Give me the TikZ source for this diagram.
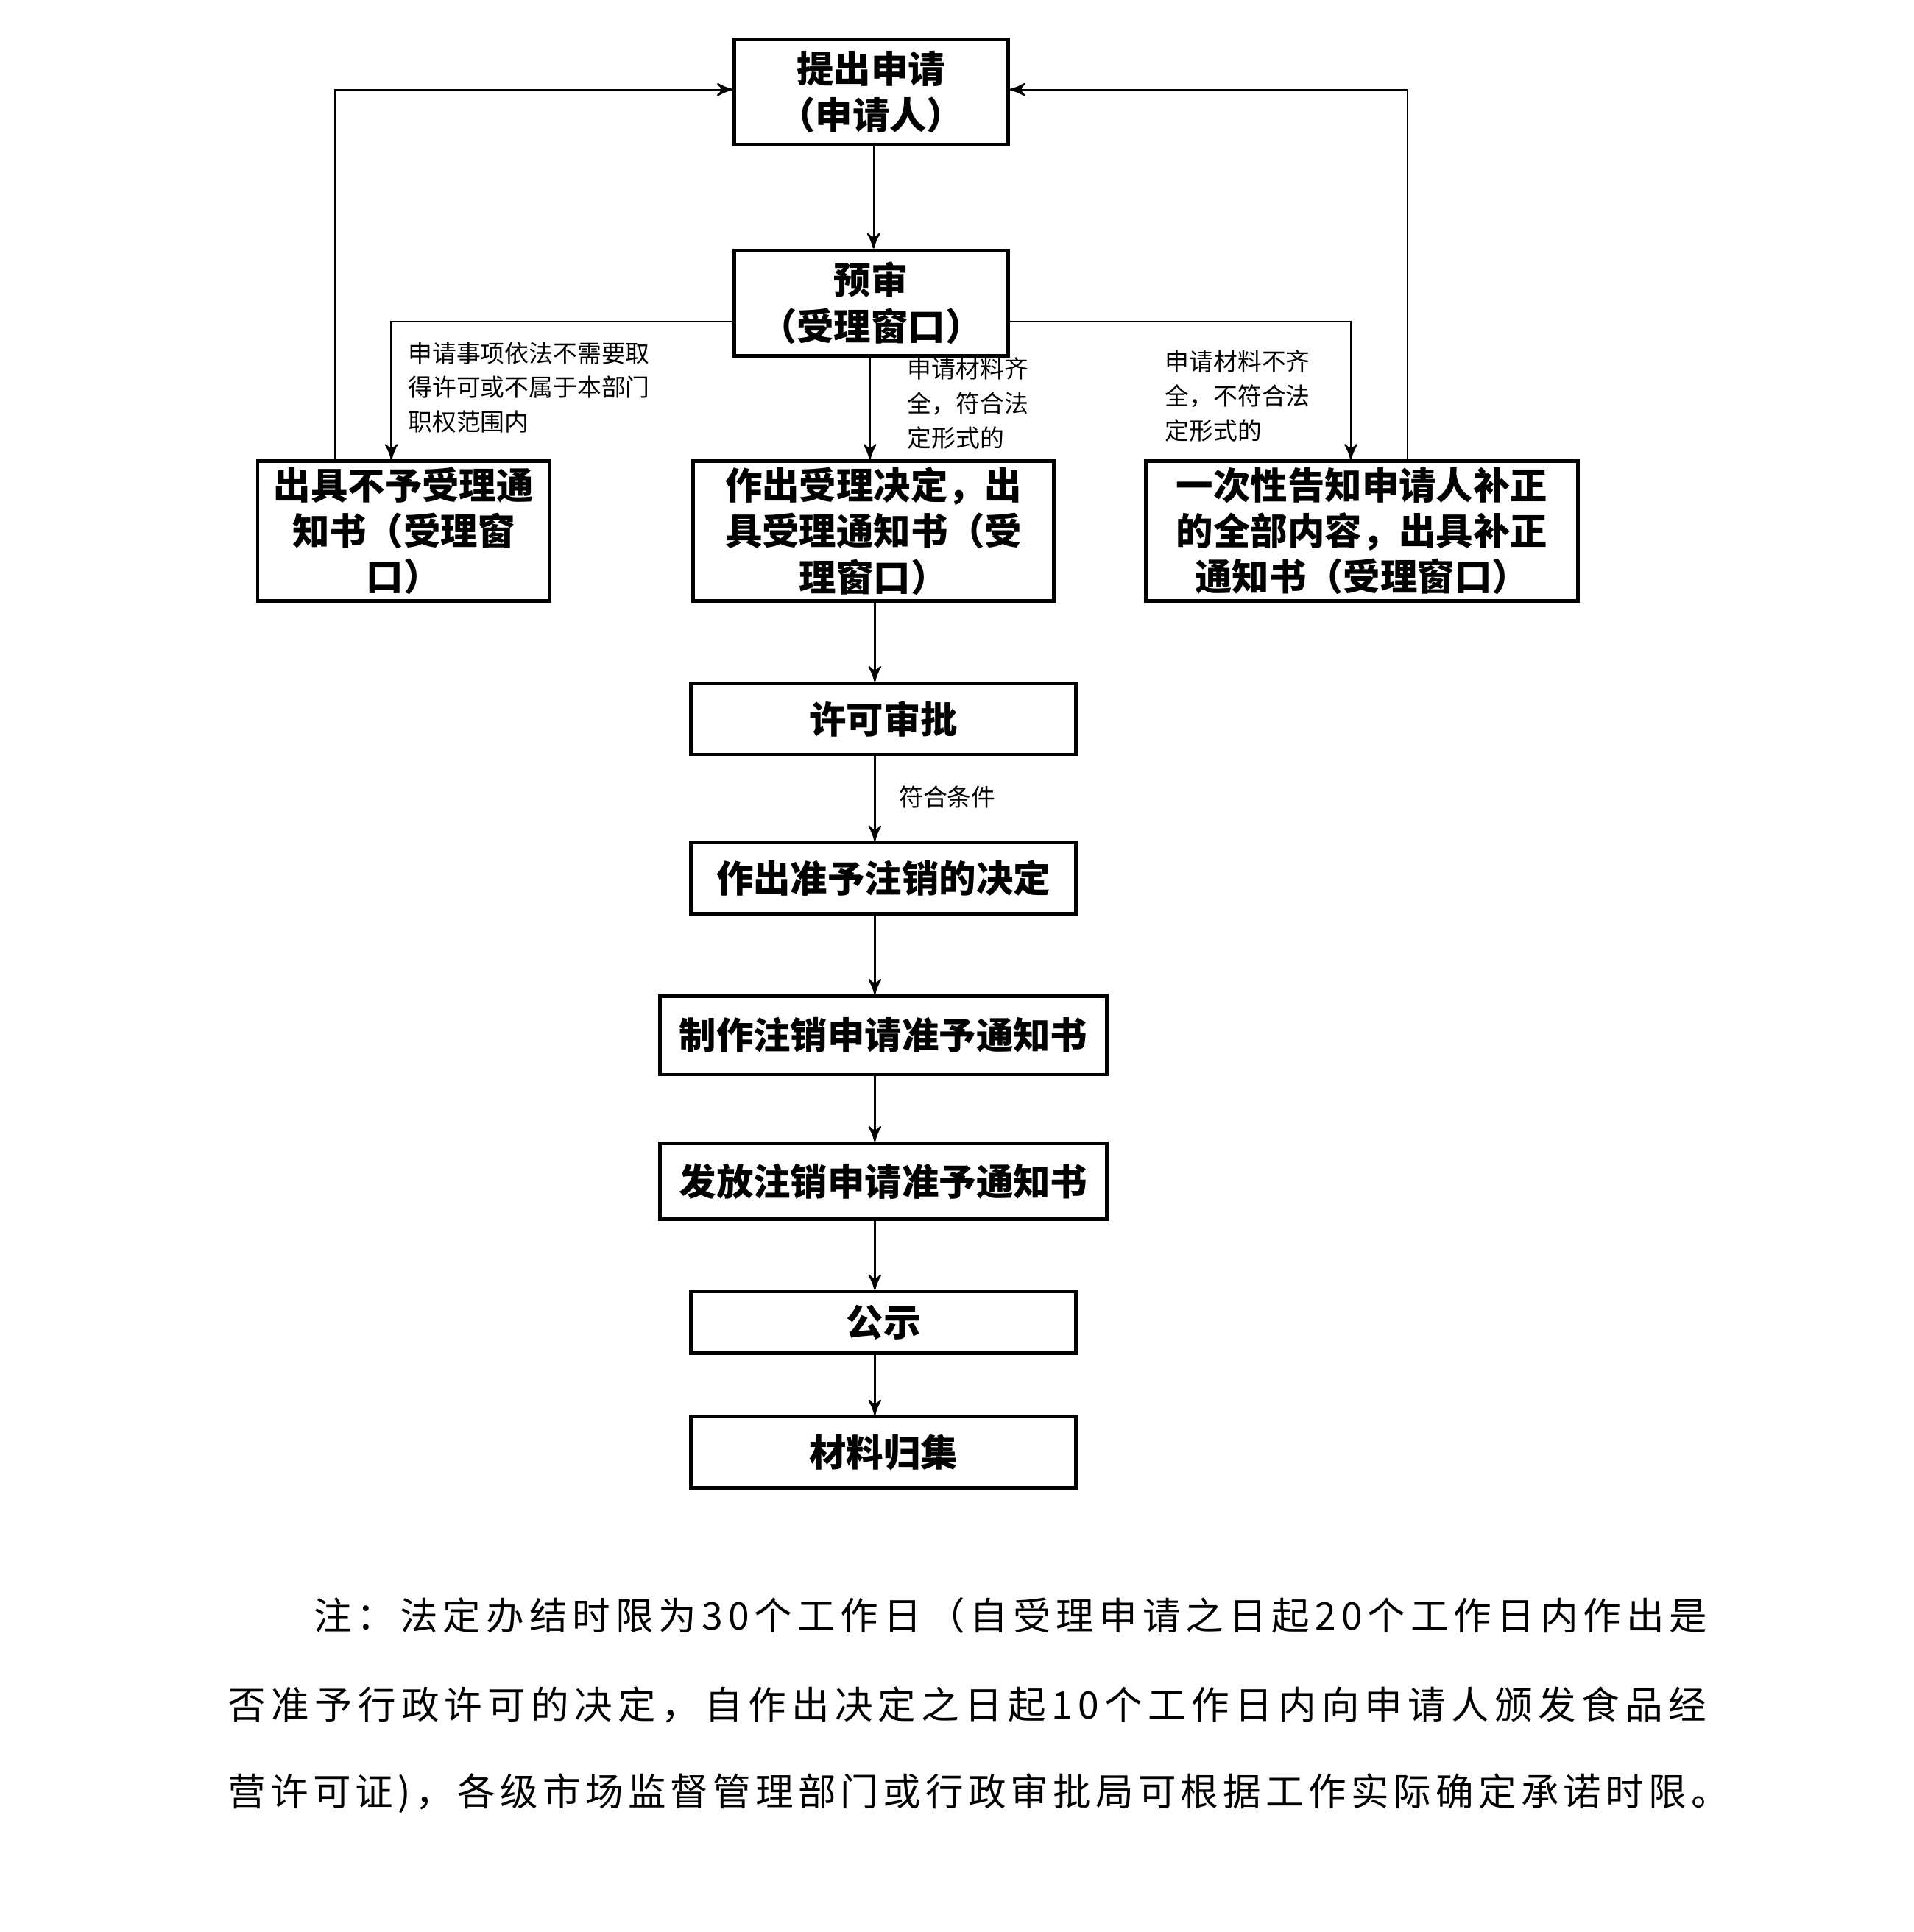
\documentclass[tikz,border=0pt]{standalone}
\usepackage{fontspec}
\setmainfont{Noto Sans CJK SC}
\newfontfamily\notefont{Noto Sans CJK SC}[LetterSpace=12]
\newfontfamily\notefontA{Noto Sans CJK SC}[LetterSpace=13.6]
\newfontfamily\notefontB{Noto Sans CJK SC}[LetterSpace=14.2]
\usetikzlibrary{arrows,positioning}
\tikzset{>=stealth',
  box/.style={draw,thick,inner sep=0pt,align=center,font=\fontsize{8.6}{10.6}\selectfont\bfseries},
  note/.style={inner sep=0pt,align=left,anchor=north west,font=\fontsize{5.6}{8}\selectfont},
  remark/.style={anchor=west,inner sep=0pt,font=\notefont\fontsize{8.8}{10}\selectfont},
  flow/.style={->,thin}}
\begin{document}
\begin{tikzpicture}[x=0.01cm,y=-0.01cm]
\useasboundingbox (0,0) rectangle (1560,1575);
\node[box,minimum width=2.23cm,minimum height=0.86cm] (apply) at (710,75) {提出申请\\（申请人）};
\node[box,minimum width=2.23cm,minimum height=0.86cm] (pre) at (710,247) {预审\\（受理窗口）};
\node[box,minimum width=2.38cm,minimum height=1.14cm] (reject) at (329,433) {出具不予受理通\\知书（受理窗\\口）};
\node[box,minimum width=2.94cm,minimum height=1.14cm] (accept) at (712,433) {作出受理决定，出\\具受理通知书（受\\理窗口）};
\node[box,minimum width=3.52cm,minimum height=1.14cm] (amend) at (1110,433) {一次性告知申请人补正\\的全部内容，出具补正\\通知书（受理窗口）};
\node[box,minimum width=3.14cm,minimum height=0.58cm] (check) at (720,586) {许可审批};
\node[box,minimum width=3.14cm,minimum height=0.58cm] (grant) at (720,716) {作出准予注销的决定};
\node[box,minimum width=3.64cm,minimum height=0.64cm] (make) at (720,844) {制作注销申请准予通知书};
\node[box,minimum width=3.64cm,minimum height=0.62cm] (issue) at (720,963) {发放注销申请准予通知书};
\node[box,minimum width=3.14cm,minimum height=0.50cm] (show) at (720,1078) {公示};
\node[box,minimum width=3.14cm,minimum height=0.58cm] (file) at (720,1184) {材料归集};
% branch labels
\node[note] (lblL) at (332,278) {申请事项依法不需要取\\得许可或不属于本部门\\职权范围内};
\node[note] (lblM) at (739,291) {申请材料齐\\全，符合法\\定形式的};
\node[note] (lblR) at (949,285) {申请材料不齐\\全，不符合法\\定形式的};
\node[note,anchor=west] (lblC) at (732,650) {符合条件};
% connectors
\draw[flow] (apply.south -| 712,0) -- (pre.north -| 712,0);
\draw[flow] (pre.west |- 0,262) -| (reject.north -| 319,0);
\draw[flow] (pre.east |- 0,262) -| (amend.north -| 1101,0);
\draw[flow] (pre.south -| 709,0) -- (accept.north -| 709,0);
\draw[flow] (reject.north -| 273,0) |- (apply.west |- 0,73);
\draw[flow] (amend.north -| 1147,0) |- (apply.east |- 0,73);
\draw[flow] (accept.south -| 713,0) -- (check.north -| 713,0);
\draw[flow] (check.south -| 713,0) -- (grant.north -| 713,0);
\draw[flow] (grant.south -| 713,0) -- (make.north -| 713,0);
\draw[flow] (make.south -| 713,0) -- (issue.north -| 713,0);
\draw[flow] (issue.south -| 713,0) -- (show.north -| 713,0);
\draw[flow] (show.south -| 713,0) -- (file.north -| 713,0);
% footnote
\node[remark,font=\notefontA\fontsize{8.8}{10}\selectfont] (n1) at (255,1317) {注：法定办结时限为30个工作日（自受理申请之日起20个工作日内作出是};
\node[remark,font=\notefontB\fontsize{8.8}{10}\selectfont] (n2) at (185,1390) {否准予行政许可的决定，自作出决定之日起10个工作日内向申请人颁发食品经};
\node[remark] (n3) at (185,1462) {营许可证)，各级市场监督管理部门或行政审批局可根据工作实际确定承诺时限。};
\end{tikzpicture}
\end{document}
